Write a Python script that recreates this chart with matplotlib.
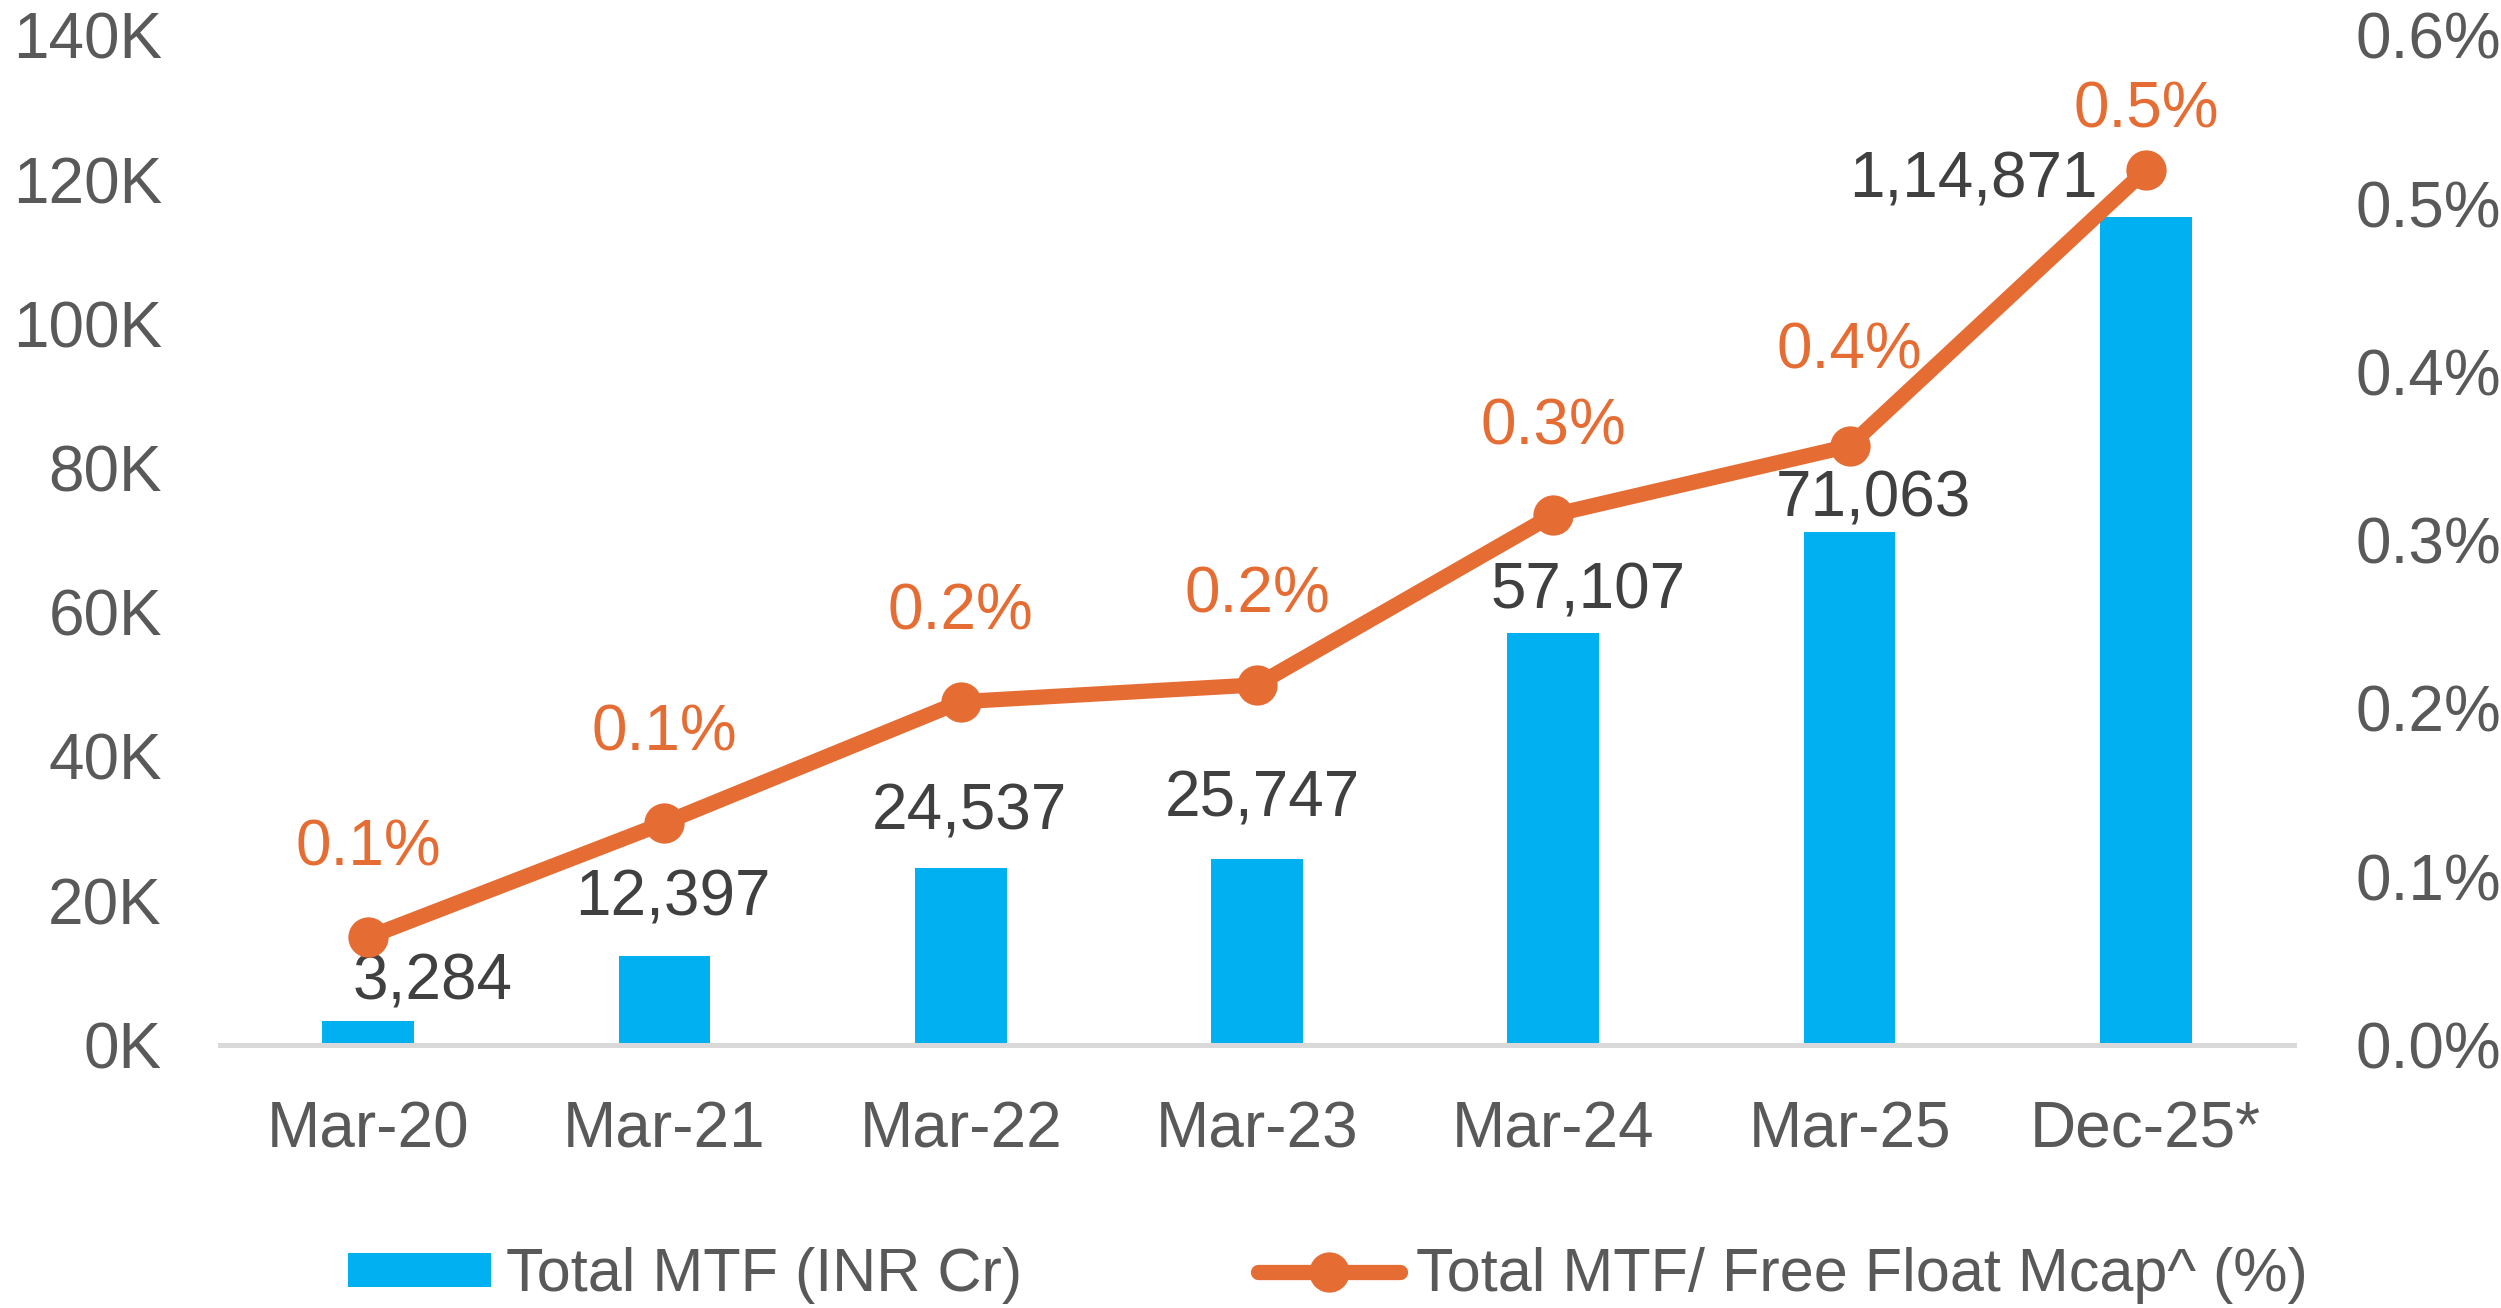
import matplotlib.pyplot as plt
import numpy as np

plt.rcParams['font.family'] = ['Liberation Sans', 'DejaVu Sans']

#%% data
categories = ['Mar-20', 'Mar-21', 'Mar-22', 'Mar-23', 'Mar-24', 'Mar-25', 'Dec-25*']
mtf_values = [3284, 12397, 24537, 25747, 57107, 71063, 114871]
mtf_pct = [0.064, 0.132, 0.204, 0.214, 0.315, 0.356, 0.520]

left_ticks = [0, 20000, 40000, 60000, 80000, 100000, 120000, 140000]
left_tick_labels = ['0K', '20K', '40K', '60K', '80K', '100K', '120K', '140K']
right_ticks = [0.0, 0.1, 0.2, 0.3, 0.4, 0.5, 0.6]
right_tick_labels = ['0.0%', '0.1%', '0.2%', '0.3%', '0.4%', '0.5%', '0.6%']

bar_label = 'Total MTF (INR Cr)'
line_label = 'Total MTF/ Free Float Mcap^ (%)'

#%% styles
blue = '#00B0F0'
orange = '#E56D34'
tick_grey = '#595959'
label_grey = '#404040'
fs = 23
fs_leg = 22

# manual data label offsets (points), as placed in the original
bar_dx = [23, 3, 3, 2, 12.5, 8.5, -62]
bar_dy = [14, 20.5, 20, 21.5, 15, 12, 13]
pct_dy = [32, 32, 32, 32, 31.5, 34, 21.5]


def indian_format(n):
    s = str(n)
    if len(s) <= 3:
        return s
    head, tail = s[:-3], s[-3:]
    groups = []
    while len(head) > 2:
        groups.insert(0, head[-2:])
        head = head[:-2]
    if head:
        groups.insert(0, head)
    return ','.join(groups) + ',' + tail


#%% plot
fig = plt.figure(figsize=(12.505, 6.54), dpi=200)
ax = fig.add_axes([0.088, 0.2011, 0.8292, 0.7719])
x = np.arange(len(categories))

bars = ax.bar(x, mtf_values, width=0.31, color=blue, label=bar_label, zorder=2)
ax.set_xlim(-0.5, len(categories) - 0.5)
ax.set_ylim(0, 140000)
ax.set_yticks(left_ticks)
ax.set_yticklabels(left_tick_labels)
ax.set_xticks(x)
ax.set_xticklabels(categories)
ax.tick_params(axis='y', length=0, pad=21, labelsize=fs, colors=tick_grey)
ax.tick_params(axis='x', length=0, pad=20, labelsize=fs, colors=tick_grey)
for side in ['top', 'left', 'right']:
    ax.spines[side].set_visible(False)
ax.spines['bottom'].set_color('#D9D9D9')
ax.spines['bottom'].set_linewidth(1.8)

for i, v in enumerate(mtf_values):
    ax.annotate(indian_format(v), (x[i], v), xytext=(bar_dx[i], bar_dy[i]),
                textcoords='offset points', ha='center', va='center',
                fontsize=fs, color=label_grey)

ax2 = ax.twinx()
ax2.set_ylim(0, 0.6)
ax2.set_yticks(right_ticks)
ax2.set_yticklabels(right_tick_labels)
ax2.tick_params(axis='y', length=0, pad=22, labelsize=fs, colors=tick_grey)
for side in ['top', 'left', 'right', 'bottom']:
    ax2.spines[side].set_visible(False)

line, = ax2.plot(x, mtf_pct, color=orange, lw=5.5, marker='o', ms=13.5,
                 label=line_label, solid_capstyle='round')

for i, v in enumerate(mtf_pct):
    ax2.annotate(f'{v:.1f}%', (x[i], v), xytext=(0, pct_dy[i]),
                 textcoords='offset points', ha='center', va='center',
                 fontsize=fs, color=orange)

fig.legend(handles=[bars, line], labels=[bar_label, line_label],
           loc='center', bbox_to_anchor=(0.531, 0.0245), ncol=2, frameon=False,
           fontsize=fs_leg, labelcolor=tick_grey, handlelength=2.33, handleheight=0.48,
           handletextpad=0.26, columnspacing=3.85)

fig.savefig('out.png', dpi=200)
